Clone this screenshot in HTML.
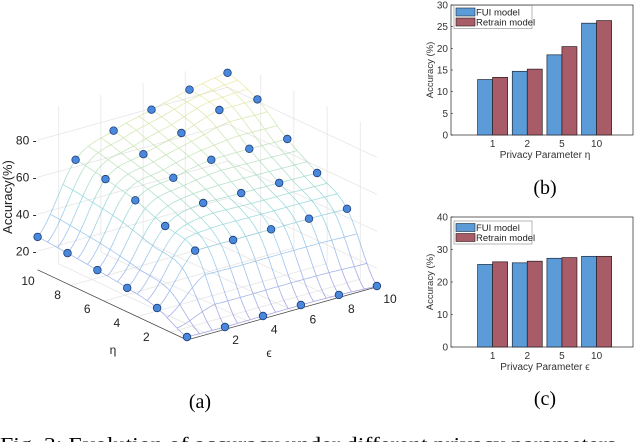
<!DOCTYPE html>
<html><head><meta charset="utf-8">
<style>
html,body{margin:0;padding:0;background:#fff;}
svg{display:block;}
text{font-family:"Liberation Sans",sans-serif;}
.serif{font-family:"Liberation Serif",serif;}
</style></head>
<body>
<svg id="fig" width="640" height="442" viewBox="0 0 640 442" xmlns="http://www.w3.org/2000/svg">
<g id="surf"></g>
<g id="barB"></g>
<g id="barC"></g>
<text class="serif" x="200" y="408" font-size="20" text-anchor="middle">(a)</text>
<text class="serif" x="545" y="194" font-size="20" text-anchor="middle">(b)</text>
<text class="serif" x="545" y="405" font-size="20" text-anchor="middle">(c)</text>
<text class="serif" x="0" y="451" font-size="20" textLength="622" lengthAdjust="spacingAndGlyphs">Fig. 3: Evolution of accuracy under different privacy parameters.</text>
</svg>
<script>
// ---------- 3D surface data ----------
const gridVals = [1, 2.8, 4.6, 6.4, 8.2, 10]; // eps and eta sample values
// accuracy[etaIndex][epsIndex]
const acc0 = [11.6, 11.3, 11.5, 11.7, 11.4, 10.5];
const acc1 = [19.7, 45, 45, 45, 45, 44.6];
const acc2 = [23, 50.7, 57.4, 57, 56.8, 56.4];
const acc3 = [25, 57, 63.4, 67.4, 67.6, 67.2];
const acc4 = [26.6, 60.9, 68.6, 74.3, 81, 81];
const acc5 = [27.8, 63.7, 73.7, 79.3, 84.4, 87.8];
const accRows = [acc0, acc1, acc2, acc3, acc4, acc5];
const zTicks = [20, 40, 60, 80];
const epsTicks = [2, 4, 6, 8, 10];
const etaTicks = [2, 4, 6, 8, 10];

// ---------- bar data ----------
const catsB = ["1", "2", "5", "10"];
const fuiB = [12.8, 14.7, 18.5, 25.8];
const retrainB = [13.3, 15.2, 20.4, 26.4];
const yTicksB = [0, 5, 10, 15, 20, 25, 30];
const catsC = ["1", "2", "5", "10"];
const fuiC = [25.4, 25.9, 27.3, 27.9];
const retrainC = [26.2, 26.4, 27.5, 27.9];
const yTicksC = [0, 10, 20, 30, 40];

const NS = "http://www.w3.org/2000/svg";
function mk(parent, tag, attrs, txt) {
  const e = document.createElementNS(NS, tag);
  for (const k in attrs) e.setAttribute(k, attrs[k]);
  if (txt !== undefined) e.textContent = txt;
  parent.appendChild(e);
  return e;
}

// ---------- 3D projection ----------
const O = [187, 340], E = [21.1, -5.9], H = [-16.6, -7.8], KZ = -1.85, Z0 = 10;
function proj(eps, eta, z) {
  return [O[0] + E[0] * (eps - 1) + H[0] * (eta - 1),
          O[1] + E[1] * (eps - 1) + H[1] * (eta - 1) + KZ * (z - Z0)];
}
function interp1(arr, u) {
  const n = arr.length;
  let i = Math.min(Math.floor(u), n - 2); const t = u - i;
  // monotone-ish cubic (Hermite with clamped slopes)
  const g = k => arr[Math.max(0, Math.min(n - 1, k))];
  const p0 = g(i - 1), p1 = g(i), p2 = g(i + 1), p3 = g(i + 2);
  let m1 = (p2 - p0) / 2, m2 = (p3 - p1) / 2;
  const d = p2 - p1;
  if (d * m1 <= 0) m1 = 0; else if (Math.abs(m1) > 3 * Math.abs(d)) m1 = 3 * d;
  if (d * m2 <= 0) m2 = 0; else if (Math.abs(m2) > 3 * Math.abs(d)) m2 = 3 * d;
  const t2 = t * t, t3 = t2 * t;
  return (2 * t3 - 3 * t2 + 1) * p1 + (t3 - 2 * t2 + t) * m1 + (-2 * t3 + 3 * t2) * p2 + (t3 - t2) * m2;
}
function idx(v) { return (v - gridVals[0]) / (gridVals[1] - gridVals[0]); }
function surfZ(eps, eta) {
  const col = accRows.map(r => interp1(r, idx(eps)));
  return interp1(col, idx(eta));
}
function parula(t) {
  t = Math.max(0, Math.min(1, t));
  const st = [[0, [110, 100, 200]], [0.25, [100, 150, 230]], [0.5, [90, 195, 200]], [0.75, [170, 215, 140]], [1, [240, 225, 110]]];
  for (let i = 0; i < st.length - 1; i++) {
    if (t <= st[i + 1][0]) {
      const a = st[i], b = st[i + 1], f = (t - a[0]) / (b[0] - a[0]);
      return "rgb(" + a[1].map((c, j) => Math.round(c + (b[1][j] - c) * f)).join(",") + ")";
    }
  }
  return "rgb(240,225,110)";
}
const S = document.getElementById("surf");
// walls
const wall = mk(S, "g", {stroke: "#e6e6e6", "stroke-width": "0.8", fill: "none"});


[20, 40, 60, 80].forEach(z => {
  const a = proj(1, 10, z), b = proj(10, 10, z), c = proj(10, 1, z);
  mk(wall, "polyline", {points: a.join(",") + " " + b.join(",") + " " + c.join(",")});
});
[2, 4, 6, 8].forEach(v => {
  const a = proj(v, 10, 10), b = proj(v, 10, 95);
  mk(wall, "line", {x1: a[0], y1: a[1], x2: b[0], y2: b[1]});
  const c = proj(10, v, 10), d = proj(10, v, 95);
  mk(wall, "line", {x1: c[0], y1: c[1], x2: d[0], y2: d[1]});
});
[2, 4, 6, 8].forEach(v => {
  const a = proj(v, 1, 10), b = proj(v, 10, 10);
  mk(wall, "line", {x1: a[0], y1: a[1], x2: b[0], y2: b[1]});
  const c = proj(1, v, 10), d = proj(10, v, 10);
  mk(wall, "line", {x1: c[0], y1: c[1], x2: d[0], y2: d[1]});
});
// axis lines
const ax = mk(S, "g", {stroke: "#444", "stroke-width": "0.8"});


let p1 = proj(1, 10, 10), p2 = proj(1, 1, 10), p3 = proj(10, 1, 10);
mk(ax, "polyline", {points: p1.join(",") + " " + p2.join(",") + " " + p3.join(","), fill: "none"});
// mesh
const mesh = mk(S, "g", {"stroke-width": "0.8", fill: "none", opacity: "0.6"});


const N = 15, SUB = 4;
for (let i = 0; i <= N; i++) {
  const fixed = 1 + 9 * i / N;
  for (let dir = 0; dir < 2; dir++) {
    for (let j = 0; j < N * SUB; j++) {
      const v0 = 1 + 9 * j / (N * SUB), v1 = 1 + 9 * (j + 1) / (N * SUB);
      let e0, h0, e1, h1;
      if (dir === 0) { e0 = v0; e1 = v1; h0 = h1 = fixed; } else { h0 = v0; h1 = v1; e0 = e1 = fixed; }
      const z0 = surfZ(e0, h0), z1 = surfZ(e1, h1);
      const a = proj(e0, h0, z0), b = proj(e1, h1, z1);
      mk(mesh, "line", {x1: a[0].toFixed(1), y1: a[1].toFixed(1), x2: b[0].toFixed(1), y2: b[1].toFixed(1), stroke: parula(((z0 + z1) / 2 - 10) / 80)});
    }
  }
}
// markers
accRows.forEach((row, hi) => {
  row.forEach((z, ei) => {
    const p = proj(gridVals[ei], gridVals[hi], z);
    const c = mk(S, "circle", {cx: p[0].toFixed(1), cy: p[1].toFixed(1), r: "3.8", fill: "#4a88dc", stroke: "#1d3d78", "stroke-width": "0.8"});
    
    
  });
});
// z ticks
zTicks.forEach(z => {
  const p = proj(1, 10, z);
  const t = mk(S, "text", {x: p[0] - 1, y: p[1] + 4, "font-size": "12", "text-anchor": "end", fill: "#222"}, z + " -");
  
  
});
epsTicks.forEach(v => {
  const t = mk(S, "text", {x: 197 + 19.3 * v, y: 354 - 5.1 * v, "font-size": "12", "text-anchor": "middle", fill: "#222"}, v);
  
  
});
etaTicks.forEach(v => {
  const t = mk(S, "text", {x: 176 - 14.8 * v, y: 355 - 7 * v, "font-size": "12", "text-anchor": "middle", fill: "#222"}, v);
  
  
});
let tt = mk(S, "text", {x: 113, y: 354, "font-size": "12", "text-anchor": "middle", fill: "#222", "font-family": "Liberation Serif, serif"}, "η");
 
tt = mk(S, "text", {x: 269, y: 357, "font-size": "12", "text-anchor": "middle", fill: "#222", "font-family": "Liberation Serif, serif"}, "ϵ");
 
tt = mk(S, "text", {x: 0, y: 0, "font-size": "13", "text-anchor": "middle", fill: "#222", transform: "translate(12,197) rotate(-90)"}, "Accuracy(%)");
 

// ---------- bar charts ----------
function barChart(g, cats, fui, ret, ticks, ymax, top, bottom, xlabel, legTop) {
  const L = 451, R = 633;
  const xmin = -0.2, xmax = 5.05;
  const xs = v => L + (v - xmin) / (xmax - xmin) * (R - L);
  const ys = v => bottom - v / ymax * (bottom - top);
  const frame = mk(g, "rect", {x: L, y: top, width: R - L, height: bottom - top, fill: "#fff", stroke: "#222", "stroke-width": "0.7"});
   
  ticks.forEach(v => {
    const y = ys(v);
    mk(g, "line", {x1: L, y1: y, x2: L + 2, y2: y, stroke: "#222", "stroke-width": "0.6"});
    const t = mk(g, "text", {x: L - 3, y: y + 3.5, "font-size": "10", "text-anchor": "end", fill: "#333"}, v);
     
  });
  const bw = 15;
  cats.forEach((c, i) => {
    const cx = xs(i + 1);
    const b1 = mk(g, "rect", {x: cx - bw, y: ys(fui[i]), width: bw, height: bottom - ys(fui[i]), fill: "#5b9bd8", stroke: "#1c2a3a", "stroke-width": "0.7"});
     
    const b2 = mk(g, "rect", {x: cx, y: ys(ret[i]), width: bw, height: bottom - ys(ret[i]), fill: "#a85c68", stroke: "#2a1a1c", "stroke-width": "0.7"});
     
    const t = mk(g, "text", {x: cx, y: bottom + 12, "font-size": "10", "text-anchor": "middle", fill: "#333"}, c);
     
  });
  const xl = mk(g, "text", {x: 545, y: bottom + 23, "font-size": "10", "text-anchor": "middle", fill: "#333"}, xlabel);
   
  const yl = mk(g, "text", {x: 0, y: 0, "font-size": "9.5", "text-anchor": "middle", fill: "#333", transform: "translate(433," + ((top + bottom) / 2) + ") rotate(-90)"}, "Accuracy (%)");
   
  const leg = mk(g, "g", {});
   
  mk(leg, "rect", {x: 454, y: legTop, width: 78, height: 23, fill: "#fff", stroke: "#999", "stroke-width": "0.7"});
  mk(leg, "rect", {x: 456, y: legTop + 2.5, width: 19, height: 8, fill: "#5b9bd8", stroke: "#1c2a3a", "stroke-width": "0.6"});
  mk(leg, "rect", {x: 456, y: legTop + 12.5, width: 19, height: 8, fill: "#a85c68", stroke: "#2a1a1c", "stroke-width": "0.6"});
  const l1 = mk(leg, "text", {x: 476, y: legTop + 10, "font-size": "9.5", fill: "#222"}, "FUI model");
   
  const l2 = mk(leg, "text", {x: 476, y: legTop + 20, "font-size": "9.5", fill: "#222"}, "Retrain model");
   
}
barChart(document.getElementById("barB"), catsB, fuiB, retrainB, yTicksB, 30, 5, 135, "Privacy Parameter η", 5.5);
barChart(document.getElementById("barC"), catsC, fuiC, retrainC, yTicksC, 40, 217, 347, "Privacy Parameter ϵ", 221);
</script>
</body></html>
